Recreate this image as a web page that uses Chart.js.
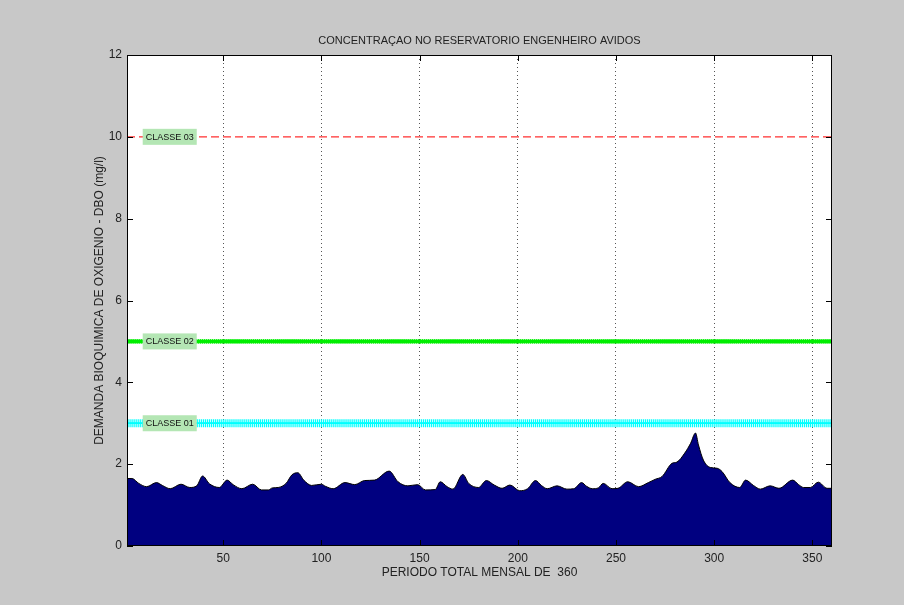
<!DOCTYPE html>
<html>
<head>
<meta charset="utf-8">
<script src="https://cdn.jsdelivr.net/npm/chart.js@4/dist/chart.umd.min.js"></script>
<style>
  html, body { margin: 0; padding: 0; background: #c8c8c8; }
  #wrap { width: 904px; height: 605px; }
</style>
</head>
<body>
<div id="wrap"><canvas id="dboChart" width="904" height="605"></canvas></div>
<script>
const periods = [1, 3.5, 7, 11, 16, 19, 23, 28.5, 33, 36.5, 39.5, 43, 48, 52, 55, 59.5,
  65, 69.5, 73, 75, 78, 82, 85, 88, 91, 95, 100, 102, 106, 112, 117, 122, 127, 134.5,
  139, 144, 149, 153, 158, 160.5, 164, 167, 172, 175, 180, 184, 188, 192, 196, 201,
  205, 209, 212, 215, 220, 225, 228.5, 232.5, 235, 238, 241, 243.5, 248, 251, 256,
  261.5, 266.5, 270, 273.5, 278.5, 281, 285, 288, 290.5, 292, 294.5, 298, 301.5, 304,
  308, 313, 316, 320, 323.5, 328.5, 333, 340, 343, 345.5, 349, 353, 357.5, 360];
const dbo = [1.65, 1.65, 1.53, 1.45, 1.55, 1.48, 1.40, 1.51, 1.43, 1.47, 1.71, 1.52, 1.43, 1.61, 1.50, 1.40,
  1.51, 1.37, 1.37, 1.42, 1.43, 1.53, 1.74, 1.79, 1.61, 1.48, 1.51, 1.46, 1.40, 1.55, 1.50, 1.60, 1.61, 1.83,
  1.57, 1.47, 1.50, 1.37, 1.38, 1.57, 1.45, 1.39, 1.75, 1.53, 1.43, 1.60, 1.49, 1.41, 1.49, 1.35,
  1.40, 1.60, 1.48, 1.40, 1.47, 1.39, 1.40, 1.55, 1.46, 1.40, 1.42, 1.53, 1.40, 1.41, 1.57,
  1.45, 1.55, 1.63, 1.70, 2.02, 2.05, 2.27, 2.51, 2.76, 2.47, 2.10, 1.92, 1.90, 1.82,
  1.55, 1.43, 1.61, 1.48, 1.39, 1.47, 1.41, 1.61, 1.50, 1.43, 1.43, 1.56, 1.41, 1.41];

// class limits
const classNames = ['CLASSE 01', 'CLASSE 02', 'CLASSE 03'];
const classLimits = [3, 5, 10];
const xTicks = [50, 100, 150, 200, 250, 300, 350];
const yTicks = [0, 2, 4, 6, 8, 10, 12];
const totalMonths = 360;

const months = Array.from({ length: totalMonths }, (_, i) => i + 1);
const FONT = '"Liberation Sans", Arial, sans-serif';

function limitLine(value) {
    return months.map(m => ({ x: m, y: value }));
}

// plot box, inward ticks, titles and class labels
const decorPlugin = {
    id: 'decor',
    afterDraw(chart) {
        const { ctx, chartArea: a, scales } = chart;
        ctx.save();
        ctx.strokeStyle = '#000';
        ctx.lineWidth = 1;
        ctx.strokeRect(a.left + 0.5, a.top + 0.5, a.right - a.left - 1, a.bottom - a.top - 1);

        ctx.beginPath();
        xTicks.forEach(t => {
            const px = Math.round(scales.x.getPixelForValue(t)) + 0.5;
            ctx.moveTo(px, a.bottom); ctx.lineTo(px, a.bottom - 6);
            ctx.moveTo(px, a.top); ctx.lineTo(px, a.top + 6);
        });
        yTicks.forEach(t => {
            const py = Math.round(scales.y.getPixelForValue(t)) + 0.5;
            ctx.moveTo(a.left, py); ctx.lineTo(a.left + 6, py);
            ctx.moveTo(a.right, py); ctx.lineTo(a.right - 6, py);
        });
        ctx.stroke();

        // class labels
        ctx.font = '9px ' + FONT;
        ctx.textBaseline = 'middle';
        ctx.textAlign = 'left';
        classLimits.forEach((lim, i) => {
            const py = scales.y.getPixelForValue(lim);
            const px = scales.x.getPixelForValue(9);
            const w = ctx.measureText(classNames[i]).width + 6;
            ctx.fillStyle = '#b4e6b4';
            ctx.fillRect(px, py - 8, w, 16);
            ctx.fillStyle = '#111';
            ctx.fillText(classNames[i], px + 3, py + 0.5);
        });

        // titles
        const cx = (a.left + a.right) / 2;
        ctx.fillStyle = '#222';
        ctx.font = '11px ' + FONT;
        ctx.textAlign = 'center';
        ctx.fillText('CONCENTRAÇAO NO RESERVATORIO ENGENHEIRO AVIDOS', cx, 41);
        ctx.font = '12px ' + FONT;
        ctx.fillText('PERIODO TOTAL MENSAL DE  360', cx, 573);
        ctx.translate(100, (a.top + a.bottom) / 2);
        ctx.rotate(-Math.PI / 2);
        ctx.fillText('DEMANDA BIOQUIMICA DE OXIGENIO - DBO (mg/l)', 0, 0);
        ctx.restore();
    }
};

const plotBg = {
    id: 'plotBg',
    beforeDraw(chart) {
        const { ctx, chartArea: a } = chart;
        ctx.save();
        ctx.fillStyle = '#c8c8c8';
        ctx.fillRect(0, 0, chart.width, chart.height);
        ctx.fillStyle = '#fff';
        ctx.fillRect(a.left, a.top, a.right - a.left, a.bottom - a.top);
        ctx.restore();
    }
};

const config = {
    type: 'line',
    data: {
        datasets: [
            {
                label: 'CLASSE 03',
                data: [{ x: 1, y: classLimits[2] }, { x: totalMonths, y: classLimits[2] }],
                borderColor: '#ff3030',
                borderWidth: 1.2,
                borderDash: [8, 4],
                pointRadius: 0
            },
            {
                label: 'CLASSE 02',
                data: limitLine(classLimits[1]),
                borderColor: '#00ff00',
                borderWidth: 1.5,
                pointStyle: 'crossRot',
                pointRadius: 2.5,
                pointBorderWidth: 1.5,
                pointBorderColor: '#00ee00',
                pointBackgroundColor: '#00ee00'
            },
            {
                label: 'CLASSE 01',
                data: limitLine(classLimits[0]),
                borderColor: '#00ffff',
                borderWidth: 1.5,
                pointStyle: 'cross',
                pointRadius: 4,
                pointBorderWidth: 1.2,
                pointBorderColor: '#00ffff',
                pointBackgroundColor: '#00ffff'
            },
            {
                label: 'DBO',
                data: periods.map((p, i) => ({ x: p, y: dbo[i] })),
                borderColor: '#000',
                borderWidth: 1,
                backgroundColor: '#000080',
                fill: 'origin',
                cubicInterpolationMode: 'monotone',
                pointRadius: 0
            }
        ]
    },
    options: {
        responsive: false,
        animation: false,
        layout: { padding: { left: 0, right: 72, top: 55, bottom: 0 } },
        plugins: {
            legend: { display: false },
            tooltip: { enabled: false }
        },
        scales: {
            x: {
                type: 'linear',
                min: 1,
                max: totalMonths,
                afterBuildTicks: s => { s.ticks = xTicks.map(v => ({ value: v })); },
                afterFit: s => { s.height = 59; },
                grid: { color: '#555', lineWidth: 1, drawTicks: false },
                border: { display: false, dash: [1, 3] },
                ticks: { color: '#222', font: { family: FONT, size: 12 }, padding: 5, maxRotation: 0 }
            },
            y: {
                min: 0,
                max: 12,
                afterBuildTicks: s => { s.ticks = yTicks.map(v => ({ value: v })); },
                afterFit: s => { s.width = 127; },
                grid: { display: false, drawTicks: false },
                border: { display: false },
                ticks: { color: '#222', font: { family: FONT, size: 12 }, padding: 5 }
            }
        }
    },
    plugins: [plotBg, decorPlugin]
};

const ctx = document.getElementById('dboChart').getContext('2d');
const dboChart = new Chart(ctx, config);
</script>
</body>
</html>
